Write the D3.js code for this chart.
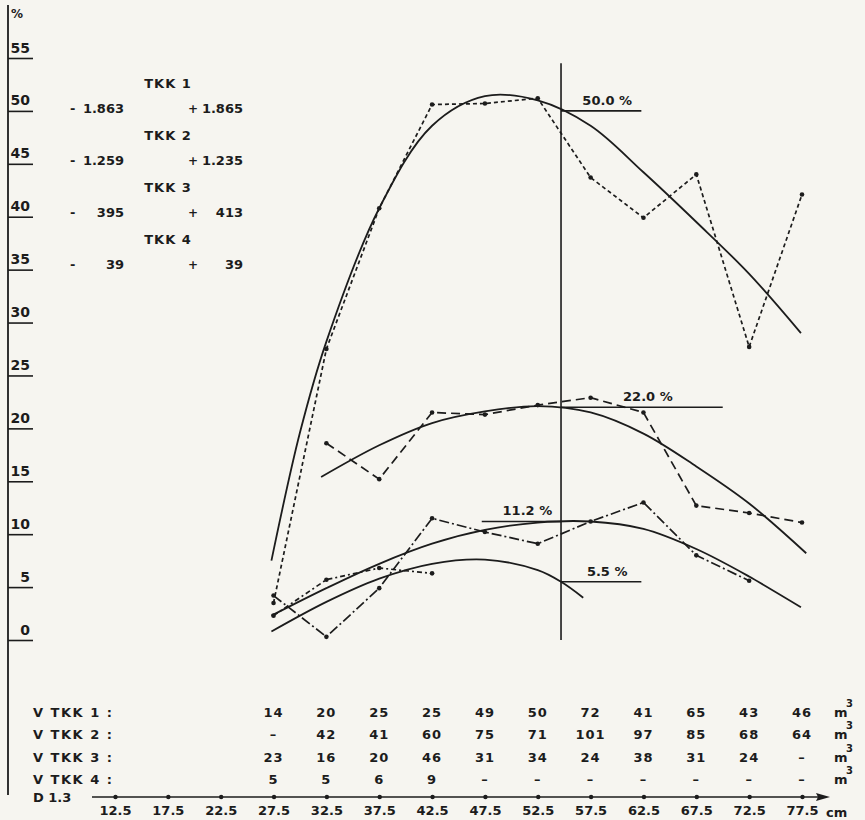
<!DOCTYPE html>
<html>
<head>
<meta charset="utf-8">
<script src="https://cdn.jsdelivr.net/npm/d3@7"></script>
<style>
body { margin: 0; background: #f6f5f0; }
svg { display: block; }
text { font-family: "DejaVu Sans", sans-serif; font-weight: bold; fill: #1c1c1c; }
</style>
</head>
<body>
<div id="viz"></div>
<script>
// diameter classes on the D 1.3 axis (cm)
var classes = [12.5, 17.5, 22.5, 27.5, 32.5, 37.5, 42.5, 47.5, 52.5, 57.5, 62.5, 67.5, 72.5, 77.5];
var tableClasses = [27.5, 32.5, 37.5, 42.5, 47.5, 52.5, 57.5, 62.5, 67.5, 72.5, 77.5];
var yTicks = [0, 5, 10, 15, 20, 25, 30, 35, 40, 45, 50, 55];

// volumes per class (m3)
var volTkk1 = ["14", "20", "25", "25", "49", "50", "72", "41", "65", "43", "46"];
var volTkk2 = ["\u2013", "42", "41", "60", "75", "71", "101", "97", "85", "68", "64"];
var volTkk3 = ["23", "16", "20", "46", "31", "34", "24", "38", "31", "24", "\u2013"];
var volTkk4 = ["5", "5", "6", "9", "\u2013", "\u2013", "\u2013", "\u2013", "\u2013", "\u2013", "\u2013"];
var rowNames = ["V TKK 1 :", "V TKK 2 :", "V TKK 3 :", "V TKK 4 :"];

// legend block top left
var tkkNames = ["TKK 1", "TKK 2", "TKK 3", "TKK 4"];
var tkkMinus = ["1.863", "1.259", "395", "39"];
var tkkPlus = ["1.865", "1.235", "413", "39"];

// measured percentages (broken lines)
var emp1D = [27.5, 32.5, 37.5, 42.5, 47.5, 52.5, 57.5, 62.5, 67.5, 72.5, 77.5];
var emp1 = [3.5, 27.5, 40.8, 50.6, 50.7, 51.2, 43.7, 39.9, 44.0, 27.7, 42.1];
var emp2D = [32.5, 37.5, 42.5, 47.5, 52.5, 57.5, 62.5, 67.5, 72.5, 77.5];
var emp2 = [18.6, 15.2, 21.5, 21.3, 22.2, 22.9, 21.5, 12.7, 12.0, 11.1];
var emp3D = [27.5, 32.5, 37.5, 42.5, 47.5, 52.5, 57.5, 62.5, 67.5, 72.5];
var emp3 = [4.2, 0.3, 4.9, 11.5, 10.2, 9.1, 11.2, 13.0, 8.0, 5.6];
var emp4D = [27.5, 32.5, 37.5, 42.5];
var emp4 = [2.3, 5.7, 6.8, 6.3];

// smoothed curves
var fit1D = [27.3, 30, 32.5, 37.5, 42.5, 47.5, 52.5, 57.5, 62.5, 67.5, 72.5, 77.4];
var fit1 = [7.5, 19.6, 28.2, 40.8, 48.6, 51.4, 51.0, 48.6, 44.2, 39.5, 34.6, 29.0];
var fit2D = [32.0, 37.5, 42.5, 47.5, 52.5, 57.5, 62.5, 67.5, 72.5, 77.9];
var fit2 = [15.4, 18.4, 20.5, 21.6, 22.1, 21.5, 19.5, 16.4, 12.9, 8.2];
var fit3D = [27.3, 32.5, 37.5, 42.5, 47.5, 52.5, 57.5, 62.5, 67.5, 72.5, 77.4];
var fit3 = [2.3, 4.9, 7.2, 9.1, 10.4, 11.1, 11.2, 10.5, 8.6, 6.0, 3.1];
var fit4D = [27.3, 32.5, 37.5, 42.5, 47.5, 52.5, 54.7, 56.8];
var fit4 = [0.8, 3.6, 5.8, 7.2, 7.6, 6.6, 5.5, 4.0];

var medianD = 54.7;
var refValues = [50.0, 22.0, 11.2, 5.5];
var refLabels = ["50.0 %", "22.0 %", "11.2 %", "5.5 %"];

var W = 865, H = 820, ink = "#1c1c1c";

var x = d3.scaleLinear().domain([12.5, 77.5]).range([115, 802]);
var y = d3.scaleLinear().domain([0, 55]).range([640, 58]);

var svg = d3.select('#viz').append('svg')
	.attr('width', W)
	.attr('height', H)
	.style('background', '#f6f5f0');

// left axis
svg.append('line')
	.attr('x1', 8).attr('x2', 8).attr('y1', 5).attr('y2', 795)
	.attr('stroke', ink).attr('stroke-width', 1.8);

var gy = svg.append('g')
	.attr('transform', 'translate(8,0)')
	.call(d3.axisRight(y).tickValues(yTicks).tickSize(25).tickFormat(d3.format('d')));
gy.attr('font-family', null).attr('font-size', null);
gy.select('.domain').remove();
gy.selectAll('.tick line').attr('stroke', ink).attr('stroke-width', 1.6);
gy.selectAll('.tick text')
	.attr('x', 22).attr('dy', -6)
	.attr('text-anchor', 'end')
	.style('font-size', '14px')
	.style('fill', ink);

svg.append('text').attr('x', 11).attr('y', 18).style('font-size', '12px').text('%');

// legend block
tkkNames.forEach(function(n, i) {
	var top = 88 + i * 52;
	svg.append('text').attr('x', 168).attr('y', top).attr('text-anchor', 'middle')
		.style('font-size', '13px').style('letter-spacing', '1px').text(n);
	svg.append('text').attr('x', 70).attr('y', top + 25).style('font-size', '13px').text('-');
	svg.append('text').attr('x', 124).attr('y', top + 25).attr('text-anchor', 'end')
		.style('font-size', '13px').text(tkkMinus[i]);
	svg.append('text').attr('x', 188).attr('y', top + 25).style('font-size', '12px').text('+');
	svg.append('text').attr('x', 243).attr('y', top + 25).attr('text-anchor', 'end')
		.style('font-size', '13px').text(tkkPlus[i]);
});

// median diameter line
svg.append('line')
	.attr('x1', x(medianD)).attr('x2', x(medianD))
	.attr('y1', y(54.5)).attr('y2', y(0))
	.attr('stroke', ink).attr('stroke-width', 1.6);

// reference levels
var refSpan = [[medianD, 62.3], [medianD, 70.0], [47.2, medianD], [medianD, 62.3]];
refValues.forEach(function(v, i) {
	var a = x(refSpan[i][0]), b = x(refSpan[i][1]);
	svg.append('line')
		.attr('x1', a).attr('x2', b).attr('y1', y(v)).attr('y2', y(v))
		.attr('stroke', ink).attr('stroke-width', 1.6);
	svg.append('text')
		.attr('x', (a + b) / 2 + 6).attr('y', y(v) - 6)
		.attr('text-anchor', 'middle')
		.style('font-size', '13px')
		.text(refLabels[i]);
});

function pairs(ds, vs) {
	return ds.map(function(d, i) { return [d, vs[i]]; });
}

var line = d3.line().x(function(d) { return x(d[0]); }).y(function(d) { return y(d[1]); });
var smooth = d3.line().curve(d3.curveCatmullRom.alpha(0.5))
	.x(function(d) { return x(d[0]); }).y(function(d) { return y(d[1]); });

[[fit1D, fit1], [fit2D, fit2], [fit3D, fit3], [fit4D, fit4]].forEach(function(f) {
	svg.append('path')
		.datum(pairs(f[0], f[1]))
		.attr('d', smooth)
		.attr('fill', 'none')
		.attr('stroke', ink)
		.attr('stroke-width', 1.8);
});

var empSeries = [
	{ d: emp1D, v: emp1, dash: '4,3' },
	{ d: emp2D, v: emp2, dash: '9,5' },
	{ d: emp3D, v: emp3, dash: '10,3,2,3' },
	{ d: emp4D, v: emp4, dash: '5,3,2,3' }
];
empSeries.forEach(function(s) {
	var pts = pairs(s.d, s.v);
	svg.append('path')
		.datum(pts)
		.attr('d', line)
		.attr('fill', 'none')
		.attr('stroke', ink)
		.attr('stroke-width', 1.7)
		.attr('stroke-dasharray', s.dash);
	svg.selectAll(null).data(pts).enter().append('circle')
		.attr('cx', function(d) { return x(d[0]); })
		.attr('cy', function(d) { return y(d[1]); })
		.attr('r', 2.3)
		.attr('fill', ink);
});

// volume table
[volTkk1, volTkk2, volTkk3, volTkk4].forEach(function(row, r) {
	var by = 717 + r * 22.3;
	svg.append('text').attr('x', 33).attr('y', by)
		.style('font-size', '13px').style('letter-spacing', '1.5px').text(rowNames[r]);
	svg.selectAll(null).data(row).enter().append('text')
		.attr('x', function(d, i) { return x(tableClasses[i]); })
		.attr('y', by)
		.attr('text-anchor', 'middle')
		.style('font-size', '13px')
		.style('letter-spacing', '1px')
		.text(function(d) { return d; });
	svg.append('text').attr('x', 834).attr('y', by).style('font-size', '13px').text('m');
	svg.append('text').attr('x', 846).attr('y', by - 10).style('font-size', '10px').text('3');
});

// D 1.3 axis
var axisY = 797;
svg.append('line')
	.attr('x1', 92).attr('x2', 822).attr('y1', axisY).attr('y2', axisY)
	.attr('stroke', ink).attr('stroke-width', 1.6);
svg.append('path')
	.attr('d', 'M830,' + axisY + ' L816,' + (axisY - 4) + ' L818,' + axisY + ' L816,' + (axisY + 4) + ' Z')
	.attr('fill', ink);

var gx = svg.append('g')
	.attr('transform', 'translate(0,' + axisY + ')')
	.call(d3.axisBottom(x).tickValues(classes).tickSize(0).tickPadding(9).tickFormat(d3.format('.1f')));
gx.attr('font-family', null).attr('font-size', null);
gx.select('.domain').remove();
gx.selectAll('.tick text').style('font-size', '13px').style('fill', ink);
gx.selectAll('.tick').append('circle').attr('r', 2.2).attr('fill', ink);

svg.append('text').attr('x', 33).attr('y', axisY + 5).style('font-size', '13px').text('D 1.3');
svg.append('text').attr('x', 826).attr('y', axisY + 20).style('font-size', '13px').text('cm');
</script>
</body>
</html>
